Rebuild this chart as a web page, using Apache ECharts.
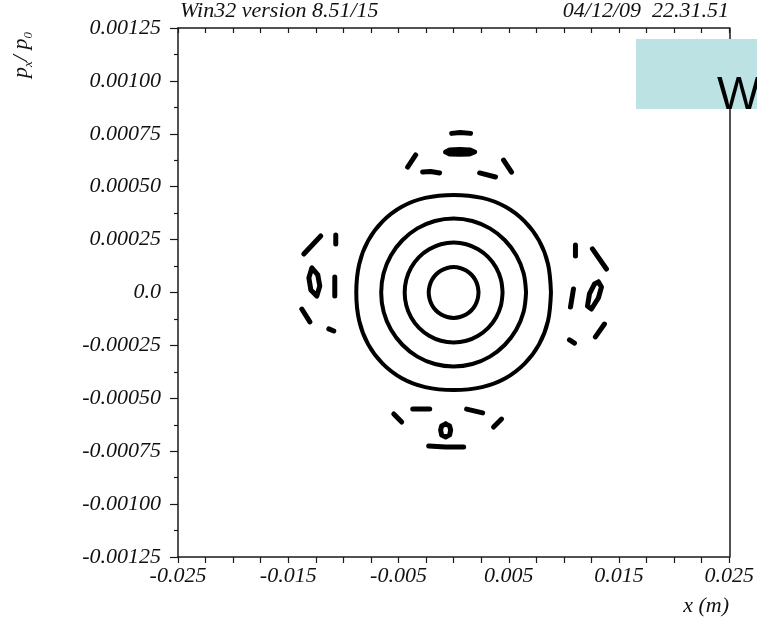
<!DOCTYPE html>
<html>
<head>
<meta charset="utf-8">
<script src="https://cdn.jsdelivr.net/npm/echarts@6/dist/echarts.min.js"></script>
<style>
  html, body { margin: 0; padding: 0; background: #fff; }
  #chart { width: 757px; height: 624px; }
</style>
</head>
<body>
<div id="chart"></div>
<script>
// Tick labels
const xTickLabels = ['-0.025', '-0.015', '-0.005', '0.005', '0.015', '0.025'];
const yTickLabels = ['-0.00125', '-0.00100', '-0.00075', '-0.00050', '-0.00025', '0.0',
                     '0.00025', '0.00050', '0.00075', '0.00100', '0.00125'];

// Closed invariant curves around the origin, [x (m), px/p0]
const ring1 = [
  [0.00226, 0], [0.00218, 0.000031], [0.00196, 0.000060], [0.00160, 0.000085], [0.00113, 0.000104], [0.00058, 0.000116],
  [0, 0.000120], [-0.00058, 0.000116], [-0.00113, 0.000104], [-0.00160, 0.000085], [-0.00196, 0.000060], [-0.00218, 0.000031],
  [-0.00226, 0], [-0.00218, -0.000031], [-0.00196, -0.000060], [-0.00160, -0.000085], [-0.00113, -0.000104], [-0.00058, -0.000116],
  [0, -0.000120], [0.00058, -0.000116], [0.00113, -0.000104], [0.00160, -0.000085], [0.00196, -0.000060], [0.00218, -0.000031],
  [0.00226, 0]
];
const ring2 = [
  [0.00444, 0], [0.00429, 0.000061], [0.00385, 0.000118], [0.00314, 0.000167], [0.00222, 0.000204], [0.00115, 0.000228],
  [0, 0.000236], [-0.00115, 0.000228], [-0.00222, 0.000204], [-0.00314, 0.000167], [-0.00385, 0.000118], [-0.00429, 0.000061],
  [-0.00444, 0], [-0.00429, -0.000061], [-0.00385, -0.000118], [-0.00314, -0.000167], [-0.00222, -0.000204], [-0.00115, -0.000228],
  [0, -0.000236], [0.00115, -0.000228], [0.00222, -0.000204], [0.00314, -0.000167], [0.00385, -0.000118], [0.00429, -0.000061],
  [0.00444, 0]
];
const ring3 = [
  [0.00657, 0], [0.00635, 0.000091], [0.00569, 0.000175], [0.00465, 0.000247], [0.00329, 0.000303], [0.00170, 0.000338],
  [0, 0.000350], [-0.00170, 0.000338], [-0.00329, 0.000303], [-0.00465, 0.000247], [-0.00569, 0.000175], [-0.00635, 0.000091],
  [-0.00657, 0], [-0.00635, -0.000091], [-0.00569, -0.000175], [-0.00465, -0.000247], [-0.00329, -0.000303], [-0.00170, -0.000338],
  [0, -0.000350], [0.00170, -0.000338], [0.00329, -0.000303], [0.00465, -0.000247], [0.00569, -0.000175], [0.00635, -0.000091],
  [0.00657, 0]
];
const ring4 = [
  [0.00883, 0], [0.00856, 0.000135], [0.00775, 0.000245], [0.00644, 0.000336], [0.00470, 0.000405], [0.00258, 0.000447],
  [0, 0.000461], [-0.00258, 0.000447], [-0.00470, 0.000405], [-0.00644, 0.000336], [-0.00775, 0.000245], [-0.00856, 0.000135],
  [-0.00883, 0], [-0.00856, -0.000135], [-0.00775, -0.000245], [-0.00644, -0.000336], [-0.00470, -0.000405], [-0.00258, -0.000447],
  [0, -0.000461], [0.00258, -0.000447], [0.00470, -0.000405], [0.00644, -0.000336], [0.00775, -0.000245], [0.00856, -0.000135],
  [0.00883, 0]
];

// Resonance island chains (each entry is one island trace)
const islandsTop = [
  [[-0.00018, 0.000752], [0.00060, 0.000756], [0.00154, 0.000752]],
  [[-0.00072, 0.000664], [-0.00036, 0.000674], [0.00054, 0.000676], [0.00145, 0.000674], [0.00190, 0.000664],
   [0.00145, 0.000655], [0.00054, 0.000653], [-0.00036, 0.000655], [-0.00072, 0.000664]],
  [[-0.00417, 0.000593], [-0.00344, 0.000650]],
  [[-0.00281, 0.000569], [-0.00208, 0.000572], [-0.00127, 0.000565]],
  [[0.00236, 0.000565], [0.00380, 0.000546]],
  [[0.00453, 0.000626], [0.00525, 0.000569]]
];
const islandsLeft = [
  [[-0.01359, 0.000182], [-0.01205, 0.000267]],
  [[-0.01069, 0.000272], [-0.01069, 0.000229]],
  [[-0.01286, 0.000116], [-0.01232, 0.000083], [-0.01214, 0.000031], [-0.01241, -0.000017], [-0.01295, 0.000012],
   [-0.01313, 0.000069], [-0.01286, 0.000116]],
  [[-0.01078, 0.000073], [-0.01078, -0.000017]],
  [[-0.01377, -0.000078], [-0.01304, -0.000139]],
  [[-0.01132, -0.000172], [-0.01087, -0.000182]]
];
const islandsRight = [
  [[0.01105, 0.000224], [0.01105, 0.000172]],
  [[0.01259, 0.000206], [0.01386, 0.000111]],
  [[0.01087, 0.000017], [0.01060, -0.000069]],
  [[0.01313, 0.000050], [0.01341, 0.000026], [0.01313, -0.000026], [0.01250, -0.000078], [0.01214, -0.000064],
   [0.01232, -0.000007], [0.01277, 0.000040], [0.01313, 0.000050]],
  [[0.01286, -0.000210], [0.01368, -0.000149]],
  [[0.01051, -0.000224], [0.01096, -0.000239]]
];
const islandsBottom = [
  [[-0.00543, -0.000574], [-0.00471, -0.000612]],
  [[-0.00371, -0.000551], [-0.00217, -0.000551]],
  [[0.00118, -0.000551], [0.00263, -0.000569]],
  [[0.00362, -0.000636], [0.00435, -0.000598]],
  [[-0.00072, -0.000621], [-0.00036, -0.000631], [-0.00027, -0.000650], [-0.00036, -0.000673], [-0.00072, -0.000683],
   [-0.00109, -0.000673], [-0.00118, -0.000650], [-0.00109, -0.000631], [-0.00072, -0.000621]],
  [[-0.00226, -0.000725], [-0.00072, -0.000730], [0.00091, -0.000730]]
];

const SERIF = '"Liberation Serif", "Times New Roman", serif';
const INK = '#111';
const AXIS = '#1a1a1a';

function trace(points, width, smooth) {
  return {
    type: 'line',
    data: points,
    symbol: 'none',
    smooth: smooth,
    silent: true,
    animation: false,
    lineStyle: { color: '#000', width: width, cap: 'round', join: 'round' }
  };
}

const series = [ring1, ring2, ring3, ring4].map(r => trace(r, 4, 0.35))
  .concat([].concat(islandsTop, islandsLeft, islandsRight, islandsBottom).map(p => trace(p, 5, false)));

const tickText = { fontFamily: SERIF, fontStyle: 'italic', fontSize: 22, color: INK };

const chart = echarts.init(document.getElementById('chart'), null, { renderer: 'canvas' });
chart.setOption({
  backgroundColor: '#fff',
  animation: false,
  grid: { left: 178, right: 27, top: 28, bottom: 67, containLabel: false },
  xAxis: [
    {
      type: 'value', position: 'bottom', min: -0.025, max: 0.025, interval: 0.0025,
      axisLine: { show: true, onZero: false, lineStyle: { color: AXIS, width: 1.5 } },
      axisTick: { show: true, inside: false, length: 6, lineStyle: { color: AXIS, width: 1.2 } },
      splitLine: { show: false },
      axisLabel: Object.assign({
        margin: 8,
        formatter: v => {
          const k = Math.round((v + 0.025) / 0.0025);
          return k % 4 === 0 ? xTickLabels[k / 4] : '';
        }
      }, tickText)
    },
    {
      type: 'value', position: 'top', min: -0.025, max: 0.025, interval: 0.0025,
      axisLine: { show: true, onZero: false, lineStyle: { color: AXIS, width: 1.5 } },
      axisTick: { show: true, inside: true, length: 5, lineStyle: { color: AXIS, width: 1.2 } },
      splitLine: { show: false },
      axisLabel: { show: false }
    }
  ],
  yAxis: [
    {
      type: 'value', position: 'left', min: -0.00125, max: 0.00125, interval: 0.00025,
      axisLine: { show: true, onZero: false, lineStyle: { color: AXIS, width: 1.5 } },
      axisTick: { show: true, inside: false, length: 8, lineStyle: { color: AXIS, width: 1.2 } },
      minorTick: { show: true, splitNumber: 2, length: 4, lineStyle: { color: AXIS, width: 1.2 } },
      splitLine: { show: false },
      axisLabel: Object.assign({
        margin: 17,
        formatter: v => yTickLabels[Math.round((v + 0.00125) / 0.00025)]
      }, tickText)
    },
    {
      type: 'value', position: 'right', min: -0.00125, max: 0.00125, interval: 0.00025,
      axisLine: { show: true, onZero: false, lineStyle: { color: AXIS, width: 1.5 } },
      axisTick: { show: false },
      splitLine: { show: false },
      axisLabel: { show: false }
    }
  ],
  series: series,
  graphic: [
    {
      type: 'text', left: 180, top: 0,
      style: { text: 'Win32 version 8.51/15', font: 'italic 22px ' + SERIF, fill: INK }
    },
    {
      type: 'text', right: 28, top: 0,
      style: { text: '04/12/09  22.31.51', font: 'italic 22px ' + SERIF, fill: INK }
    },
    {
      type: 'text', x: 20, y: 55, rotation: Math.PI / 2,
      style: {
        text: '{p|p}{s|x}{p|/ p}{s|0}',
        align: 'center', verticalAlign: 'middle',
        fill: INK,
        rich: {
          p: { fontFamily: SERIF, fontStyle: 'italic', fontSize: 22, lineHeight: 24, verticalAlign: 'bottom' },
          s: { fontFamily: SERIF, fontStyle: 'italic', fontSize: 13, lineHeight: 24, verticalAlign: 'bottom', padding: [0, 0, -3, 0] }
        }
      }
    },
    {
      type: 'text', right: 28, top: 595,
      style: { text: 'x (m)', font: 'italic 22px ' + SERIF, fill: INK }
    },
    {
      type: 'rect', left: 636, top: 39, z: 100,
      shape: { width: 121, height: 70 },
      style: { fill: '#bde2e4' }
    },
    {
      type: 'text', left: 717, top: 73, z: 101,
      style: { text: 'W', font: '46px "Liberation Sans", Arial, sans-serif', fill: '#000' }
    }
  ]
});
</script>
</body>
</html>
